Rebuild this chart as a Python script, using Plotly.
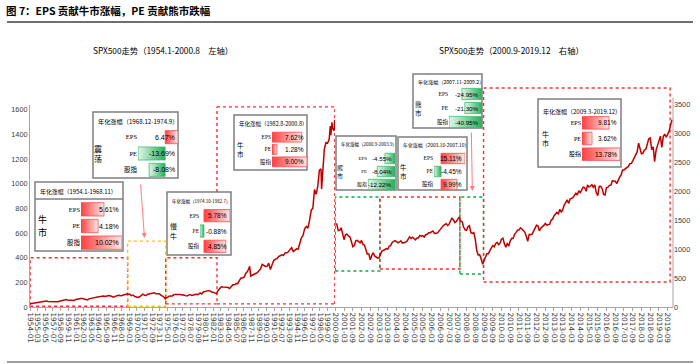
import plotly.graph_objects as go
import pandas as pd

# ---------------- data ----------------
TITLE = "图 7：EPS 贡献牛市涨幅，PE 贡献熊市跌幅"
SUB_LEFT = "SPX500走势（1954.1-2000.8　左轴）"
SUB_RIGHT = "SPX500走势（2000.9-2019.12　右轴）"

# S&P 500, left chart: Jan/Apr/Jul/Oct readings 1954-01 .. 2000-07
LEFT_Q_START = "1954-01-01"
LEFT_Q_SPX = [
    26.08, 28.26, 30.88, 31.68, 36.63, 37.96, 43.52, 42.34,
    43.82, 48.38, 49.39, 45.58, 44.72, 45.74, 47.91, 41.06,
    41.70, 43.44, 47.19, 51.33, 55.42, 57.59, 60.51, 57.52,
    55.61, 54.37, 55.51, 53.39, 61.78, 65.31, 66.76, 68.62,
    68.84, 65.24, 58.23, 56.52, 66.20, 69.80, 69.13, 74.01,
    77.04, 79.46, 83.18, 84.86, 87.56, 89.11, 85.25, 92.42,
    92.88, 91.06, 83.60, 80.20, 86.61, 94.01, 94.75, 93.30,
    92.24, 97.59, 97.74, 103.41, 103.01, 103.69, 91.83, 97.12,
    85.02, 81.52, 78.05, 83.25, 95.88, 103.95, 95.58, 94.23,
    103.94, 107.67, 107.39, 111.58, 116.03, 106.97, 108.22, 108.29,
    96.57, 90.31, 79.31, 73.90, 76.98, 87.30, 88.75, 89.04,
    100.86, 101.64, 103.44, 102.90, 102.03, 98.44, 98.85, 92.34,
    89.25, 96.83, 100.68, 93.15, 99.93, 101.76, 103.81, 101.82,
    114.16, 106.29, 121.67, 127.47, 129.55, 132.81, 130.92, 121.89,
    120.40, 116.44, 107.09, 133.71, 145.30, 164.42, 162.56, 163.55,
    163.41, 160.05, 150.66, 166.09, 179.63, 179.83, 190.92, 189.82,
    211.78, 235.52, 236.12, 243.98, 274.08, 288.36, 318.66, 251.79,
    257.07, 261.33, 272.02, 278.97, 297.47, 309.64, 346.08, 340.36,
    329.08, 330.80, 356.15, 304.00, 343.93, 375.35, 387.81, 392.45,
    408.79, 414.95, 424.21, 418.68, 438.78, 440.19, 448.13, 467.83,
    481.61, 450.91, 458.26, 472.35, 470.42, 514.71, 562.06, 581.50,
    636.02, 654.17, 639.95, 705.27, 786.16, 801.34, 954.29, 914.62,
    980.28, 1111.75, 1120.67, 1098.67, 1279.64, 1335.18, 1328.72, 1362.93,
    1394.46, 1452.43, 1430.83,
]
LEFT_EXTRA_MONTHS = ["1968-11", "1974-09", "1987-08", "1998-08", "1999-12", "2000-03", "2000-08"]
LEFT_EXTRA_SPX = [108.37, 63.54, 329.80, 957.28, 1469.25, 1498.58, 1517.68]

# S&P 500, right chart: monthly 2000-09 .. 2019-12
RIGHT_START = "2000-09-01"
RIGHT_SPX = [
    1436.5, 1429.4, 1315.2, 1320.3,
    1366.0, 1239.9, 1160.3, 1249.5, 1255.8, 1224.4, 1211.2, 1133.6, 1040.9, 1059.8, 1139.5, 1148.1,
    1130.2, 1106.7, 1147.4, 1076.9, 1067.1, 989.8, 911.6, 916.1, 815.3, 885.8, 936.3, 879.8,
    855.7, 841.2, 848.2, 916.9, 963.6, 974.5, 990.3, 1008.0, 996.0, 1050.7, 1058.2, 1111.9,
    1131.1, 1144.9, 1126.2, 1107.3, 1120.7, 1140.8, 1101.7, 1104.2, 1114.6, 1130.2, 1173.8, 1211.9,
    1181.3, 1203.6, 1180.6, 1156.9, 1191.5, 1191.3, 1234.2, 1220.3, 1228.8, 1207.0, 1249.5, 1248.3,
    1280.1, 1280.7, 1294.9, 1310.6, 1270.1, 1270.2, 1276.7, 1303.8, 1335.9, 1377.9, 1400.6, 1418.3,
    1438.2, 1406.8, 1420.9, 1482.4, 1530.6, 1503.4, 1455.3, 1474.0, 1526.8, 1549.4, 1481.1, 1468.4,
    1378.6, 1330.6, 1322.7, 1385.6, 1400.4, 1280.0, 1267.4, 1282.8, 1166.4, 968.8, 896.2, 903.3,
    825.9, 735.1, 797.9, 872.8, 919.1, 919.3, 987.5, 1020.6, 1057.1, 1036.2, 1095.6, 1115.1,
    1073.9, 1104.5, 1169.4, 1186.7, 1089.4, 1030.7, 1101.6, 1049.3, 1141.2, 1183.3, 1180.6, 1257.6,
    1286.1, 1327.2, 1325.8, 1363.6, 1345.2, 1320.6, 1292.3, 1218.9, 1131.4, 1253.3, 1247.0, 1257.6,
    1312.4, 1365.7, 1408.5, 1397.9, 1310.3, 1362.2, 1379.3, 1406.6, 1440.7, 1412.2, 1416.2, 1426.2,
    1498.1, 1514.7, 1569.2, 1597.6, 1630.7, 1606.3, 1685.7, 1633.0, 1681.6, 1756.5, 1805.8, 1848.4,
    1782.6, 1859.5, 1872.3, 1883.9, 1923.6, 1960.2, 1930.7, 2003.4, 1972.3, 2018.1, 2067.6, 2058.9,
    1995.0, 2104.5, 2067.9, 2085.5, 2107.4, 2063.1, 2103.8, 1972.2, 1920.0, 2079.4, 2080.4, 2043.9,
    1940.2, 1932.2, 2059.7, 2065.3, 2096.9, 2098.9, 2173.6, 2171.0, 2168.3, 2126.2, 2198.8, 2238.8,
    2278.9, 2363.6, 2362.7, 2384.2, 2411.8, 2423.4, 2470.3, 2471.7, 2519.4, 2575.3, 2647.6, 2673.6,
    2823.8, 2713.8, 2640.9, 2648.1, 2705.3, 2718.4, 2816.3, 2901.5, 2914.0, 2711.7, 2760.2, 2506.9,
    2704.1, 2784.5, 2834.4, 2945.8, 2752.1, 2941.8, 2980.4, 2926.5, 2976.7, 3037.6, 3141.0, 3230.8,
]

LEFT_YTICKS = [0, 200, 400, 600, 800, 1000, 1200, 1400, 1600]
RIGHT_YTICKS = [0, 500, 1000, 1500, 2000, 2500, 3000, 3500]

# annualised contribution tables
BOX_PERIODS = ["1954.1-1968.11", "1968.12-1974.9", "1974.10-1982.7", "1982.8-2000.8",
               "2000.9-2003.9", "2003.10-2007.10", "2007.11-2009.2", "2009.3-2019.12"]
BOX_TAGS = ["牛市", "震荡", "慢牛", "牛市", "熊市", "牛市", "熊市", "牛市"]
ROW_LABELS = ["EPS", "PE", "股指"]
EPS_CAGR = [5.61, 6.47, 5.78, 7.62, -4.55, 15.11, -24.95, 9.81]
PE_CAGR = [4.18, -13.69, -0.88, 1.28, -8.04, -4.45, -21.30, 3.62]
IDX_CAGR = [10.02, -8.08, 4.85, 9.00, -12.22, 9.99, -40.95, 13.78]

# ---------------- styling / geometry ----------------
W, H = 700, 364
def fx(p): return p / W
def fy(p): return 1 - p / H

SERIES_COLOR = "#C00000"
AXIS_COLOR = "#A6A6A6"
TICK_FONT_COLOR = "#404040"
RED_DOT = "#FF2B2B"
YEL_DOT = "#FFC000"
GRN_DOT = "#00B050"
BOX_BORDER = "#7F7F7F"
CJK = "Noto Sans CJK SC"
NARROW = "Liberation Sans Narrow, Arial Narrow, Liberation Sans, sans-serif"

# box outer rect (l, t, r, b) in px
BOX_RECT = [(35, 182, 123, 251), (93, 112, 178, 178), (167, 192, 231, 255), (234, 115, 307, 170),
            (336, 136, 396, 190), (398, 137, 467, 190), (413, 74, 482, 128), (538, 99, 621, 167)]
BAR_X = [(81, 122), (138, 178), (200, 230), (272, 307), (368, 395), (434, 465), (449, 482), (582, 620)]
ROWS_Y = [(201, 251), (129, 178), (208, 254), (131, 168), (152, 191), (152, 191), (87, 129), (115, 162)]
HEADER_Y = [191, 122, 201, 124, 145, 145, 82, 111]
HEADER_FS = [5.9, 6.2, 4.5, 5.5, 4.5, 4.9, 5.1, 6.0]
HEADER_LINE = [199, None, None, None, None, None, None, None]
TAG_X = [42, 98, 173, 240, 340, 403, 418, 545]
TAG_FS = [9, 8, 7, 6.5, 6, 6.5, 6.5, 7]
TAG_GAP = [12.5, 10.5, 9.5, 9, 8.5, 9, 9, 10]
LABEL_FS = [6.5, 6.5, 5.5, 5.5, 5, 5.5, 5.5, 6]
VALUE_FS = [7, 7, 6.5, 6.5, 6.2, 6.5, 6.2, 6.5]

# ---------------- series ----------------
left_dates = list(pd.date_range(LEFT_Q_START, periods=len(LEFT_Q_SPX), freq="3MS"))
left_dates += [pd.Timestamp(m + "-01") for m in LEFT_EXTRA_MONTHS]
left_df = pd.DataFrame({"d": left_dates, "v": LEFT_Q_SPX + LEFT_EXTRA_SPX}).sort_values("d")
right_dates = pd.date_range(RIGHT_START, periods=len(RIGHT_SPX), freq="MS")

fig = go.Figure()
fig.add_trace(go.Scatter(x=left_df["d"], y=left_df["v"], xaxis="x", yaxis="y", mode="lines",
                         line=dict(color=SERIES_COLOR, width=1.5), hoverinfo="skip"))
fig.add_trace(go.Scatter(x=right_dates, y=RIGHT_SPX, xaxis="x2", yaxis="y2", mode="lines",
                         line=dict(color=SERIES_COLOR, width=1.5), hoverinfo="skip"))

layout = dict(
    template="none",
    width=W, height=H, margin=dict(l=0, r=0, t=0, b=0, pad=0, autoexpand=False),
    paper_bgcolor="white", plot_bgcolor="rgba(0,0,0,0)", showlegend=False,
    font=dict(family=CJK, color="#000000"),
)
xcommon = dict(type="date", tickformat="%Y-%m", tickangle=90, ticks="outside", ticklen=3,
               tickcolor=AXIS_COLOR, showline=True, linecolor=AXIS_COLOR, linewidth=1,
               showgrid=False, zeroline=False, automargin=False,
               tickfont=dict(family="DejaVu Sans", size=7.3, color=TICK_FONT_COLOR))
layout["xaxis"] = dict(xcommon, domain=[fx(30), fx(335)], range=["1953-12-25", "2000-08-20"],
                       tick0="1954-01-01", dtick="M14", anchor="y")
layout["xaxis2"] = dict(xcommon, domain=[fx(335), fx(673)], range=["2000-08-25", "2019-12-20"],
                        tick0="2000-09-01", dtick="M6", anchor="y2")
ycommon = dict(showgrid=False, zeroline=False, ticks="", automargin=False,
               tickfont=dict(family=NARROW, size=7.3, color=TICK_FONT_COLOR))
layout["yaxis"] = dict(ycommon, domain=[fy(307), fy(105)], range=[0, 1640], tickvals=LEFT_YTICKS,
                       showline=True, linecolor=AXIS_COLOR, anchor="x")
layout["yaxis2"] = dict(ycommon, domain=[fy(307), fy(86)], range=[0, 3810], tickvals=RIGHT_YTICKS,
                        showline=False, side="right", anchor="x2")

shapes = []
annotations = []

def rect_data(xr, yr, x0, x1, y0, y1, color):
    shapes.append(dict(type="rect", xref=xr, yref=yr, x0=x0, x1=x1, y0=y0, y1=y1,
                       line=dict(color=color, width=1.4, dash="dot"), layer="below"))

def line_data(xr, yr, x0, x1, y0, y1, color):
    shapes.append(dict(type="line", xref=xr, yref=yr, x0=x0, x1=x1, y0=y0, y1=y1,
                       line=dict(color=color, width=1.4, dash="dot"), layer="below"))

# period frames on left chart
rect_data("x", "y", "1954-01-01", "1968-12-01", 6, 400, RED_DOT)
rect_data("x", "y", "1968-12-01", "1974-10-01", 6, 535, YEL_DOT)
rect_data("x", "y", "1974-10-01", "1982-08-01", 25, 400, RED_DOT)
line_data("x", "y", "1982-08-01", "2000-08-10", 1625, 1625, RED_DOT)
line_data("x", "y", "2000-08-10", "2000-08-10", 25, 1625, RED_DOT)
line_data("x", "y", "1982-08-01", "2000-08-10", 25, 25, RED_DOT)
line_data("x", "y", "1982-08-01", "1982-08-01", 934, 1625, RED_DOT)
# period frames on right chart
rect_data("x2", "y2", "2000-09-01", "2003-03-20", 621, 1897, GRN_DOT)
rect_data("x2", "y2", "2003-03-20", "2007-10-15", 655, 1897, RED_DOT)
rect_data("x2", "y2", "2007-10-15", "2009-02-20", 569, 1897, GRN_DOT)
rect_data("x2", "y2", "2009-02-20", "2019-10-20", 431, 3776, RED_DOT)

# right axis line
shapes.append(dict(type="line", xref="x2 domain", yref="paper", x0=1, x1=1, y0=fy(307), y1=fy(98),
                   line=dict(color=AXIS_COLOR, width=1)))

# title and rules
annotations.append(dict(text="<b>" + TITLE + "</b>", xref="paper", yref="paper", x=fx(4), y=fy(10),
                        xanchor="left", yanchor="middle", showarrow=False,
                        font=dict(family=CJK, size=10.5, color="#000000")))
shapes.append(dict(type="line", xref="paper", yref="paper", x0=fx(7), x1=fx(693), y0=fy(22), y1=fy(22),
                   line=dict(color="#404040", width=1.6)))
shapes.append(dict(type="line", xref="paper", yref="paper", x0=fx(7), x1=fx(693), y0=fy(362), y1=fy(362),
                   line=dict(color="#7F7F7F", width=1.5)))
annotations.append(dict(text=SUB_LEFT, xref="paper", yref="paper", x=fx(163), y=fy(50),
                        xanchor="center", yanchor="middle", showarrow=False,
                        font=dict(family=CJK, size=8.3, color="#000000")))
annotations.append(dict(text=SUB_RIGHT, xref="paper", yref="paper", x=fx(511), y=fy(50),
                        xanchor="center", yanchor="middle", showarrow=False,
                        font=dict(family=CJK, size=8.3, color="#000000")))

# arrows
annotations.append(dict(text="", xref="x", yref="y", x="1971-07-01", y=560, ax=-4, ay=-55,
                        showarrow=True, arrowhead=2, arrowsize=1, arrowwidth=1, arrowcolor="#FF7C80"))
annotations.append(dict(text="", xref="x2", yref="y2", x="2008-07-01", y=2000, ax=-1, ay=-60,
                        showarrow=True, arrowhead=2, arrowsize=1, arrowwidth=1, arrowcolor="#FF7C80"))

# contribution tables
RED_SCALE = [[0, "#FF3F3F"], [1, "#FFE8E8"]]
GRN_SCALE = [[0, "#E4F5E9"], [1, "#27AE5A"]]
for k in range(len(BOX_PERIODS)):
    n = k + 3
    l, t, r, b = BOX_RECT[k]
    shapes.append(dict(type="rect", xref="paper", yref="paper", x0=fx(l), x1=fx(r), y0=fy(b), y1=fy(t),
                       line=dict(color=BOX_BORDER, width=1.5), fillcolor="white", layer="below"))
    if HEADER_LINE[k] is not None:
        shapes.append(dict(type="line", xref="paper", yref="paper", x0=fx(l), x1=fx(r),
                           y0=fy(HEADER_LINE[k]), y1=fy(HEADER_LINE[k]),
                           line=dict(color=BOX_BORDER, width=1.5), layer="below"))
    vals = [EPS_CAGR[k], PE_CAGR[k], IDX_CAGR[k]]
    lo, hi = min(0, min(vals)), max(0, max(vals))
    bl, br = BAR_X[k]
    rt, rb = ROWS_Y[k]
    layout[f"xaxis{n}"] = dict(domain=[fx(bl), fx(br)], range=[lo, hi], visible=False,
                               anchor=f"y{n}", fixedrange=True, automargin=False)
    layout[f"yaxis{n}"] = dict(domain=[fy(rb), fy(rt)], range=[2.5, -0.5], anchor=f"x{n}",
                               tickvals=[0, 1, 2], ticktext=ROW_LABELS, showgrid=False, zeroline=False,
                               showline=False, ticks="", fixedrange=True, automargin=False,
                               tickfont=dict(family="Liberation Serif, " + CJK, size=LABEL_FS[k],
                                             color="#000000"))
    for i, v in enumerate(vals):
        pos = v >= 0
        fig.add_trace(go.Scatter(
            x=[0, v, v, 0, 0], y=[i - 0.4, i - 0.4, i + 0.4, i + 0.4, i - 0.4],
            xaxis=f"x{n}", yaxis=f"y{n}", mode="lines", fill="toself",
            fillgradient=dict(type="horizontal", colorscale=RED_SCALE if pos else GRN_SCALE),
            line=dict(color="#FF4B4B" if pos else "#3DBB6B", width=0.8), hoverinfo="skip"))
        annotations.append(dict(text=f"{v:.2f}%", xref=f"x{n} domain", yref=f"y{n}", x=1, y=i,
                                xanchor="right", yanchor="middle", xshift=-1, showarrow=False,
                                font=dict(family=NARROW, size=VALUE_FS[k], color="#000000")))
    annotations.append(dict(text=f"年化涨幅（{BOX_PERIODS[k]}）", xref="paper", yref="paper",
                            x=fx(l + 3), y=fy(HEADER_Y[k]), xanchor="left", yanchor="middle",
                            showarrow=False, font=dict(family=CJK, size=HEADER_FS[k], color="#000000")))
    mid = (rt + rb) / 2
    chars = list(BOX_TAGS[k])
    for j, ch in enumerate(chars):
        cy = mid + (j - (len(chars) - 1) / 2) * TAG_GAP[k]
        annotations.append(dict(text=ch, xref="paper", yref="paper", x=fx(TAG_X[k]), y=fy(cy),
                                xanchor="center", yanchor="middle", showarrow=False, borderpad=0,
                                font=dict(family=CJK, size=TAG_FS[k], color="#000000")))

layout["shapes"] = shapes
layout["annotations"] = annotations
fig.update_layout(**layout)
fig.write_html("out.html", config={"displayModeBar": False, "staticPlot": True},
               post_script="document.body.style.margin='0';")
